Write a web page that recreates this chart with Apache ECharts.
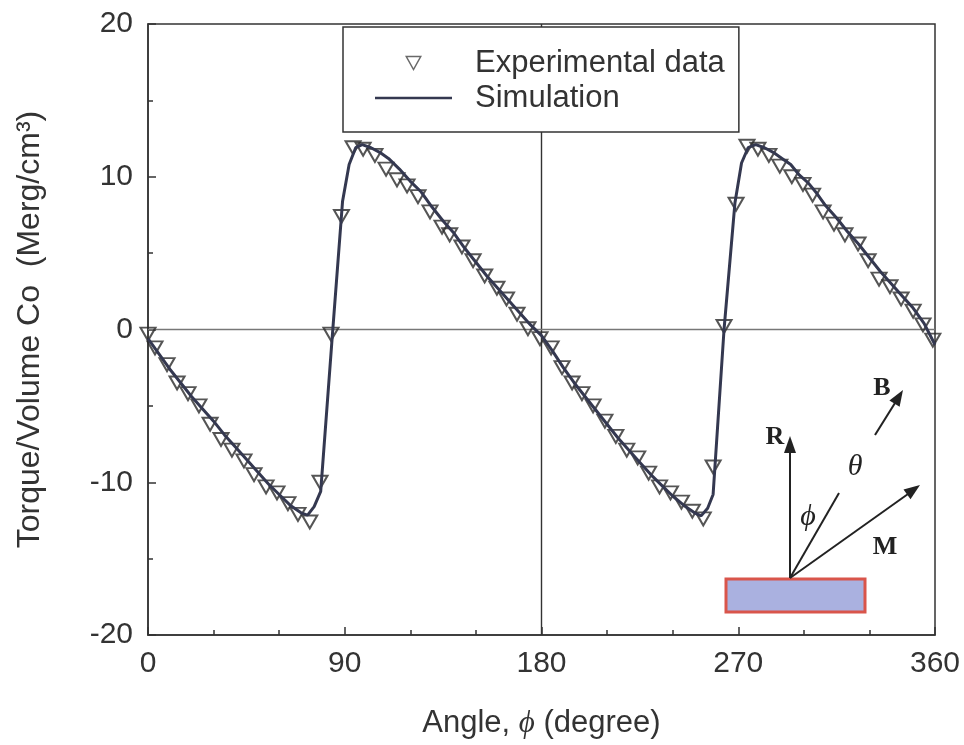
<!DOCTYPE html>
<html>
<head>
<meta charset="utf-8">
<script src="https://cdn.jsdelivr.net/npm/echarts@6/dist/echarts.min.js"></script>
<style>
html,body{margin:0;padding:0;background:#fff;}
#chart{width:964px;height:745px;}
</style>
</head>
<body>
<div id="chart"></div>
<script>
// Experimental data (angle in degrees, torque/volume in Merg/cm^3)
const expAngle = [0,3.2,8.7,13.3,18.3,23.3,28.4,33.4,38.4,43.9,48.5,54,59,64,68.6,74,78.7,83.7,88.5,93.8,98.4,103.8,108.9,113.9,118.5,123.5,129,134.5,138,143.6,148.7,154,159.6,164,168.8,173.8,179.3,184.4,189.4,194,198.5,203.6,209,214,219,224,229,234,239,244,249,254,258.5,263.5,269,274,279,284,289,294.5,299.6,304,308.8,313.8,318.8,324.8,329.4,334.4,339.4,344.5,350,354.5,359];
const expTorque = [-0.3,-1.2,-2.3,-3.5,-4.2,-5.0,-6.2,-7.2,-7.9,-8.6,-9.5,-10.3,-10.7,-11.4,-12.1,-12.6,-10.0,-0.3,7.4,11.9,11.8,11.4,10.5,9.8,9.4,8.7,7.7,6.7,6.2,5.4,4.5,3.5,2.7,2.0,1.0,0.05,-0.6,-1.2,-2.5,-3.5,-4.2,-5.0,-6.0,-7.0,-7.9,-8.4,-9.4,-10.3,-10.7,-11.3,-11.9,-12.4,-9.0,0.2,8.2,12.0,11.8,11.4,10.7,10.0,9.5,8.8,7.7,6.9,6.2,5.6,4.5,3.3,2.8,2.0,1.2,0.3,-0.7];

// Simulation curve
const simAngle = [0,5,10,15,20,25,30,35,40,45,50,55,60,65,70,73,76,79,84,89,92,95,98,102,106,110,115,120,125,130,135,140,145,150,155,160,165,170,175,180,185,190,195,200,205,210,215,220,225,230,235,240,245,250,253,256,258.5,263.5,268.5,271.5,274.5,278,282,286,290,294,298,302,306,310,315,320,325,330,335,340,345,350,355,360];
const simTorque = [-0.6,-1.6,-2.6,-3.5,-4.4,-5.2,-6.0,-6.9,-7.7,-8.5,-9.3,-10.1,-10.8,-11.5,-12.0,-12.15,-11.6,-10.6,-1.0,8.4,10.8,11.9,12.1,11.9,11.6,11.2,10.5,9.7,9.0,8.0,7.1,6.3,5.3,4.4,3.5,2.7,1.9,1.1,0.3,-0.4,-1.4,-2.5,-3.5,-4.4,-5.3,-6.2,-7.1,-7.9,-8.7,-9.5,-10.2,-10.9,-11.5,-12.0,-12.2,-11.7,-10.8,0.0,8.3,10.9,11.9,12.1,11.9,11.6,11.2,10.8,10.1,9.6,8.9,8.1,7.3,6.4,5.6,4.7,3.8,3.0,2.2,1.4,0.4,-1.0];

const seriesNames = ['Experimental data', 'Simulation'];
const yTitle = 'Torque/Volume Co  (Merg/cm³)';

const expData = expAngle.map((a, i) => [a, expTorque[i]]);
const simData = simAngle.map((a, i) => [a, simTorque[i]]);

const FONT = "'Liberation Sans', Arial, sans-serif";
const SERIF = "'Liberation Serif', 'Times New Roman', serif";
const downTri = 'path://M0,0L10,0L5,9Z';
const lineIcon = 'path://M0,0L60,0L60,2L0,2Z';

const chart = echarts.init(document.getElementById('chart'), null, {renderer: 'canvas'});

const ink = '#222';
const lineColor = '#343850';

const option = {
  backgroundColor: '#fff',
  animation: false,
  grid: {
    left: 148, right: 29, top: 24, bottom: 110,
    outerBoundsMode: 'none', containLabel: false,
    show: true, borderColor: '#333', borderWidth: 1.5, backgroundColor: 'transparent'
  },
  legend: {
    orient: 'vertical',
    left: 343, top: 27,
    padding: [20, 14, 18, 32],
    itemGap: 3,
    itemWidth: 77, itemHeight: 13,
    backgroundColor: '#fff',
    borderColor: '#333', borderWidth: 1.5,
    textStyle: {fontSize: 31, fontFamily: FONT, color: '#333', padding: [0, 0, 0, 18], lineHeight: 32},
    data: [
      {name: seriesNames[0], icon: downTri, itemStyle: {color: 'rgba(255,255,255,0)', borderColor: '#444', borderWidth: 1.5}},
      {name: seriesNames[1], icon: lineIcon, itemStyle: {color: lineColor, borderWidth: 0}}
    ]
  },
  xAxis: {
    type: 'value', min: 0, max: 360, interval: 90,
    axisLine: {show: true, onZero: false, lineStyle: {color: '#333', width: 1.5}},
    axisTick: {show: true, inside: true, length: 8, lineStyle: {color: '#333', width: 1.5}},
    minorTick: {show: true, splitNumber: 3, length: 5, lineStyle: {color: '#333', width: 1.5}},
    splitLine: {show: false},
    axisLabel: {fontSize: 30, fontFamily: FONT, color: '#333', margin: 14},
    name: '{a|Angle, }{p|ϕ}{a| (degree)}',
    nameLocation: 'middle', nameGap: 73,
    nameTextStyle: {
      rich: {
        a: {fontSize: 31, fontFamily: FONT, color: '#333'},
        p: {fontSize: 31, fontFamily: SERIF, fontStyle: 'italic', color: '#333'}
      }
    }
  },
  yAxis: {
    type: 'value', min: -20, max: 20, interval: 10,
    axisLine: {show: true, onZero: false, lineStyle: {color: '#333', width: 1.5}},
    axisTick: {show: true, inside: true, length: 8, lineStyle: {color: '#333', width: 1.5}},
    minorTick: {show: true, splitNumber: 2, length: 5, lineStyle: {color: '#333', width: 1.5}},
    splitLine: {show: false},
    axisLabel: {fontSize: 30, fontFamily: FONT, color: '#333', margin: 15},
    name: yTitle,
    nameLocation: 'middle', nameGap: 102, nameRotate: 90,
    nameTextStyle: {fontSize: 32, fontFamily: FONT, color: '#333'}
  },
  series: [
    {
      name: seriesNames[0],
      type: 'scatter',
      data: expData,
      symbol: downTri,
      symbolSize: [15, 13],
      itemStyle: {color: 'rgba(255,255,255,0)', borderColor: '#2a2a2a', borderWidth: 2},
      z: 3
    },
    {
      name: seriesNames[1],
      type: 'line',
      data: simData,
      showSymbol: false,
      symbol: 'none',
      smooth: false,
      lineStyle: {color: lineColor, width: 3},
      itemStyle: {color: lineColor},
      z: 4,
      markLine: {
        silent: true,
        symbol: 'none',
        label: {show: false},
        data: [
          {xAxis: 180, lineStyle: {color: '#333', width: 1.4, type: 'solid'}},
          {yAxis: 0, lineStyle: {color: '#777', width: 1.4, type: 'solid'}}
        ],
        z: 1
      }
    }
  ],
  graphic: [
    {type: 'rect', shape: {x: 726, y: 579, width: 139, height: 33},
     style: {fill: '#aab1e0', stroke: '#d9554b', lineWidth: 3}},
    // R arrow
    {type: 'line', shape: {x1: 790, y1: 578, x2: 790, y2: 450}, style: {stroke: ink, lineWidth: 2}},
    {type: 'polygon', shape: {points: [[790, 436], [784, 453], [796, 453]]}, style: {fill: ink}},
    // M arrow
    {type: 'line', shape: {x1: 790, y1: 578, x2: 908, y2: 494}, style: {stroke: ink, lineWidth: 2}},
    {type: 'polygon', shape: {points: [[920, 485], [910.5, 499.2], [903.5, 489.4]]}, style: {fill: ink}},
    // phi line
    {type: 'line', shape: {x1: 790, y1: 578, x2: 839, y2: 493}, style: {stroke: ink, lineWidth: 2}},
    // B arrow
    {type: 'line', shape: {x1: 875, y1: 435, x2: 895, y2: 403}, style: {stroke: ink, lineWidth: 2}},
    {type: 'polygon', shape: {points: [[903, 390], [899.6, 406.8], [889.4, 400.4]]}, style: {fill: ink}},
    // labels
    {type: 'text', style: {text: 'R', x: 775, y: 437, align: 'center', verticalAlign: 'middle', font: 'bold 26px ' + SERIF, fill: ink}},
    {type: 'text', style: {text: 'B', x: 882, y: 388, align: 'center', verticalAlign: 'middle', font: 'bold 26px ' + SERIF, fill: ink}},
    {type: 'text', style: {text: 'M', x: 885, y: 547, align: 'center', verticalAlign: 'middle', font: 'bold 26px ' + SERIF, fill: ink}},
    {type: 'text', style: {text: 'θ', x: 855, y: 467, align: 'center', verticalAlign: 'middle', font: 'italic 30px ' + SERIF, fill: ink}},
    {type: 'text', style: {text: 'ϕ', x: 808, y: 517, align: 'center', verticalAlign: 'middle', font: 'italic 30px ' + SERIF, fill: ink}}
  ]
};

chart.setOption(option);
</script>
</body>
</html>
